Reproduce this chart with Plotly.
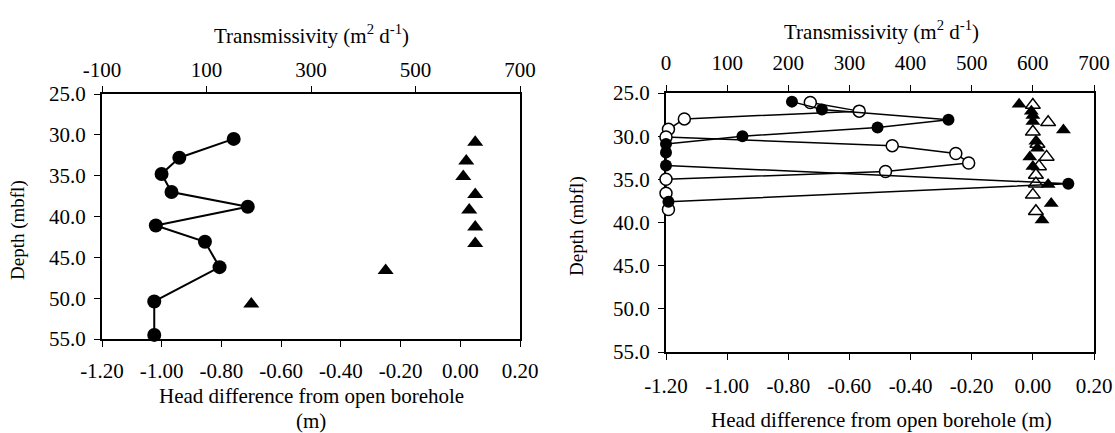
import plotly.graph_objects as go

# ---------------- data ----------------
# Left panel
left_T = [152, 48, 14, 33, 179, 3, 97, 125, 0, 0]
left_T_depth = [30.5, 32.8, 34.8, 37.0, 38.8, 41.1, 43.1, 46.2, 50.4, 54.5]
left_head = [0.05, 0.02, 0.01, 0.05, 0.03, 0.05, 0.05, -0.25, -0.70]
left_head_depth = [30.9, 33.2, 35.1, 37.3, 39.2, 41.3, 43.3, 46.6, 50.7]

# Right panel
right_filled_T = [206, 255, 462, 346, 125, 0, 0, 0, 658, 4]
right_filled_T_depth = [26.0, 26.9, 28.1, 29.0, 30.0, 30.9, 31.9, 33.4, 35.5, 37.6]
right_open_T = [236, 316, 30, 4, 0, 370, 474, 495, 359, 0, 0, 4]
right_open_T_depth = [26.1, 27.1, 28.0, 29.2, 30.1, 31.1, 32.0, 33.1, 34.1, 35.0, 36.6, 38.5]
right_filled_head = [-0.045, -0.005, 0.00, 0.00, 0.10, 0.01, 0.015, -0.01, 0.00, 0.05, 0.06, 0.03]
right_filled_head_depth = [26.3, 27.1, 27.6, 28.3, 29.3, 30.6, 31.4, 32.4, 33.5, 35.6, 37.8, 39.7]
right_open_head = [0.00, 0.05, 0.00, 0.015, 0.045, 0.02, 0.01, 0.01, 0.00, 0.01]
right_open_head_depth = [26.4, 28.4, 29.5, 30.9, 32.4, 33.5, 34.5, 35.5, 36.8, 38.7]

# Tick labels
head_ticks = [-1.2, -1.0, -0.8, -0.6, -0.4, -0.2, 0.0, 0.2]
head_tick_text = ["-1.20", "-1.00", "-0.80", "-0.60", "-0.40", "-0.20", "0.00", "0.20"]
left_T_ticks = [-100, 100, 300, 500, 700]
left_T_tick_text = ["-100", "100", "300", "500", "700"]
right_T_ticks = [0, 100, 200, 300, 400, 500, 600, 700]
right_T_tick_text = ["0", "100", "200", "300", "400", "500", "600", "700"]
depth_ticks = [25, 30, 35, 40, 45, 50, 55]
depth_tick_text = ["25.0", "30.0", "35.0", "40.0", "45.0", "50.0", "55.0"]

top_title = "Transmissivity (m<sup>2</sup> d<sup>-1</sup>)"
depth_title = "Depth (mbfl)"

# ---------------- figure ----------------
W, H = 1115, 433
FONT = "Liberation Serif, Times New Roman, serif"
FS = 21

fig = go.Figure()

# left panel
fig.add_trace(go.Scatter(x=left_head, y=left_head_depth, xaxis="x", yaxis="y",
                         mode="markers", cliponaxis=False,
                         marker=dict(symbol="triangle-up", size=14, color="black")))
fig.add_trace(go.Scatter(x=left_T, y=left_T_depth, xaxis="x2", yaxis="y",
                         mode="lines+markers", cliponaxis=False,
                         line=dict(color="black", width=2),
                         marker=dict(symbol="circle", size=14, color="black")))

# right panel
fig.add_trace(go.Scatter(x=right_open_head, y=right_open_head_depth, xaxis="x3", yaxis="y2",
                         mode="markers", cliponaxis=False,
                         marker=dict(symbol="triangle-up", size=13, color="white",
                                     line=dict(color="black", width=1.5))))
fig.add_trace(go.Scatter(x=right_filled_head, y=right_filled_head_depth, xaxis="x3", yaxis="y2",
                         mode="markers", cliponaxis=False,
                         marker=dict(symbol="triangle-up", size=13, color="black")))
fig.add_trace(go.Scatter(x=right_open_T, y=right_open_T_depth, xaxis="x4", yaxis="y2",
                         mode="lines+markers", cliponaxis=False,
                         line=dict(color="black", width=1.5),
                         marker=dict(symbol="circle", size=12, color="white",
                                     line=dict(color="black", width=1.5))))
fig.add_trace(go.Scatter(x=right_filled_T, y=right_filled_T_depth, xaxis="x4", yaxis="y2",
                         mode="lines+markers", cliponaxis=False,
                         line=dict(color="black", width=1.5),
                         marker=dict(symbol="circle", size=12, color="black")))


def px_x(p):
    return p / W


def px_y(p):
    return 1 - p / H


common = dict(showgrid=False, zeroline=False, showline=True, linecolor="black",
              linewidth=2, ticks="outside", ticklen=6, tickwidth=1, tickcolor="black",
              layer="below traces", automargin=False,
              tickfont=dict(family=FONT, size=FS, color="black"))

L_dom_x = [px_x(102), px_x(520)]
L_dom_y = [px_y(339), px_y(94)]
R_dom_x = [px_x(666), px_x(1094)]
R_dom_y = [px_y(352), px_y(93)]

fig.update_layout(
    template="none",
    width=W, height=H,
    autosize=False,
    margin=dict(l=0, r=0, t=0, b=0, pad=0, autoexpand=False),
    paper_bgcolor="white", plot_bgcolor="white",
    showlegend=False,
    font=dict(family=FONT, size=FS, color="black"),
    xaxis=dict(common, domain=L_dom_x, anchor="y", range=[-1.2, 0.2],
               tickvals=head_ticks, ticktext=head_tick_text, ticklabelstandoff=6),
    xaxis2=dict(common, overlaying="x", side="top", anchor="y", range=[-100, 700],
                tickvals=left_T_ticks, ticktext=left_T_tick_text, ticklabelstandoff=1),
    yaxis=dict(common, domain=L_dom_y, anchor="x", range=[55, 25], mirror=True,
               tickvals=depth_ticks, ticktext=depth_tick_text, ticklabelstandoff=4),
    xaxis3=dict(common, domain=R_dom_x, anchor="y2", range=[-1.2, 0.2],
                tickvals=head_ticks, ticktext=head_tick_text, ticklabelstandoff=8),
    xaxis4=dict(common, overlaying="x3", side="top", anchor="y2", range=[0, 700],
                tickvals=right_T_ticks, ticktext=right_T_tick_text, ticklabelstandoff=7),
    yaxis2=dict(common, domain=R_dom_y, anchor="x3", range=[55, 25], mirror=True,
                tickvals=depth_ticks, ticktext=depth_tick_text, ticklabelstandoff=4),
)

ann = dict(xref="paper", yref="paper", showarrow=False, xanchor="center", yanchor="middle",
           font=dict(family=FONT, size=FS, color="black"))
fig.add_annotation(ann, text=top_title, x=px_x(311), y=px_y(34))
fig.add_annotation(ann, text=top_title, x=px_x(881), y=px_y(31))
fig.add_annotation(ann, text="Head difference from open borehole", x=px_x(311), y=px_y(396))
fig.add_annotation(ann, text="(m)", x=px_x(311), y=px_y(421))
fig.add_annotation(ann, text="Head difference from open borehole (m)", x=px_x(881), y=px_y(420))
fig.add_annotation(ann, text=depth_title, x=px_x(18), y=px_y(230), textangle=-90,
                   font=dict(family=FONT, size=19, color="black"))
fig.add_annotation(ann, text=depth_title, x=px_x(577), y=px_y(226), textangle=-90,
                   font=dict(family=FONT, size=19, color="black"))

fig.write_html("out.html")
